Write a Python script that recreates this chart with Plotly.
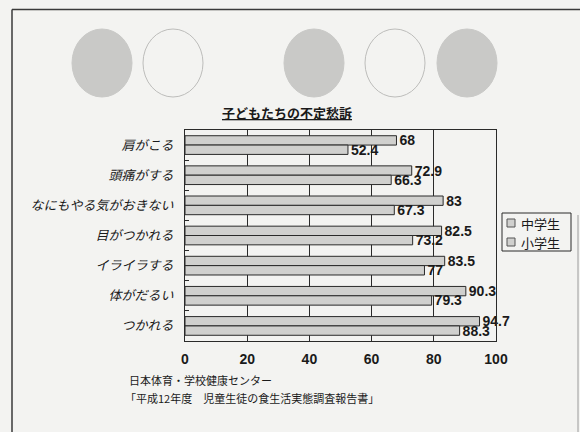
import plotly.graph_objects as go

# Survey items (top to bottom) and percentages per school level
categories = ["肩がこる", "頭痛がする", "なにもやる気がおきない", "目がつかれる",
              "イライラする", "体がだるい", "つかれる"]
junior_high = [68, 72.9, 83, 82.5, 83.5, 90.3, 94.7]
elementary = [52.4, 66.3, 67.3, 73.2, 77, 79.3, 88.3]
series_names = ["中学生", "小学生"]
x_ticks = [0, 20, 40, 60, 80, 100]

W, H = 580, 432
L, R, T, B = 185, 84, 130, 91
PW, PH = W - L - R, H - T - B

def px(x):
    return (x - L) / PW

def py(y):
    return (H - B - y) / PH

JP = "Noto Sans CJK JP"
NUM = "Liberation Sans"
BG = "#f3f3f1"
BAR = "#d0d0ce"
LINE = "#2a2a2a"

fig = go.Figure()
for name, vals in zip(series_names, [junior_high, elementary]):
    fig.add_trace(go.Bar(
        y=categories, x=vals, name=name, orientation="h",
        marker=dict(color=BAR, line=dict(color=LINE, width=1)),
        texttemplate="%{x}", textposition="outside", constraintext="none",
        textfont=dict(family=NUM, size=14, color="#1a1a1a", weight="bold"),
        cliponaxis=False, showlegend=False,
    ))

shapes = []
# decorative circles across the top
for cx, filled in [(102, True), (173, False), (314, True), (395, False), (467, True)]:
    shapes.append(dict(
        type="circle", xref="paper", yref="paper",
        x0=px(cx - 30), x1=px(cx + 30), y0=py(97), y1=py(29),
        fillcolor="#c9c9c7" if filled else "rgba(0,0,0,0)",
        line=dict(color="#bdbdbb" if not filled else "#c9c9c7", width=1),
        layer="below",
    ))
# outer frame of the figure panel
shapes.append(dict(type="line", xref="paper", yref="paper",
                   x0=px(12), x1=px(580), y0=py(9.5), y1=py(9.5),
                   line=dict(color="#3a3a3a", width=1.5)))
shapes.append(dict(type="line", xref="paper", yref="paper",
                   x0=px(12), x1=px(12), y0=py(9.5), y1=py(432),
                   line=dict(color="#3a3a3a", width=1.5)))
shapes.append(dict(type="line", xref="paper", yref="paper",
                   x0=px(578), x1=px(578), y0=py(215), y1=py(432),
                   line=dict(color="#9a9a9a", width=1)))

annotations = [
    dict(text="<u><b>子どもたちの不定愁訴</b></u>", xref="paper", yref="paper",
         x=px(287), y=py(113), xanchor="center", yanchor="middle", showarrow=False,
         font=dict(family=JP, size=13, color="#1a1a1a")),
    dict(text="日本体育・学校健康センター", xref="paper", yref="paper",
         x=px(127), y=py(380), xanchor="left", yanchor="middle", showarrow=False,
         font=dict(family=JP, size=11, color="#1a1a1a")),
    dict(text="「平成12年度　児童生徒の食生活実態調査報告書」", xref="paper", yref="paper",
         x=px(123), y=py(398), xanchor="left", yanchor="middle", showarrow=False,
         font=dict(family=JP, size=11, color="#1a1a1a")),
]

# legend box with a small swatch per series
shapes.append(dict(type="rect", xref="paper", yref="paper",
                   x0=px(502), x1=px(571), y0=py(251), y1=py(213),
                   fillcolor=BG, line=dict(color=LINE, width=1)))
for i, name in enumerate(series_names):
    yc = 223 + i * 19
    shapes.append(dict(type="rect", xref="paper", yref="paper",
                       x0=px(507), x1=px(515), y0=py(yc + 4), y1=py(yc - 4),
                       fillcolor=BAR, line=dict(color="#555555", width=1)))
    annotations.append(dict(text=name, xref="paper", yref="paper",
                            x=px(520), y=py(yc), xanchor="left", yanchor="middle",
                            showarrow=False, borderpad=0,
                            font=dict(family=JP, size=13, color="#1a1a1a")))

fig.update_layout(
    width=W, height=H,
    margin=dict(l=L, r=R, t=T, b=B, autoexpand=False),
    paper_bgcolor=BG, plot_bgcolor=BG,
    barmode="group", bargap=0.38, bargroupgap=0,
    showlegend=False,
    shapes=shapes, annotations=annotations,
    xaxis=dict(range=[0, 100], tickvals=x_ticks, showgrid=True,
               gridcolor=LINE, gridwidth=1, zeroline=False,
               showline=True, linecolor=LINE, linewidth=1, mirror=True,
               ticks="", ticklabelstandoff=5,
               tickfont=dict(family=NUM, size=14, color="#1a1a1a", weight="bold")),
    yaxis=dict(autorange="reversed", showgrid=False,
               showline=True, linecolor=LINE, linewidth=1, mirror=True,
               ticks="inside", tickson="boundaries", ticklen=4, tickcolor=LINE,
               ticklabelstandoff=8,
               tickfont=dict(family=JP, size=13, color="#1a1a1a", style="italic")),
)

fig.write_html("out.html")
